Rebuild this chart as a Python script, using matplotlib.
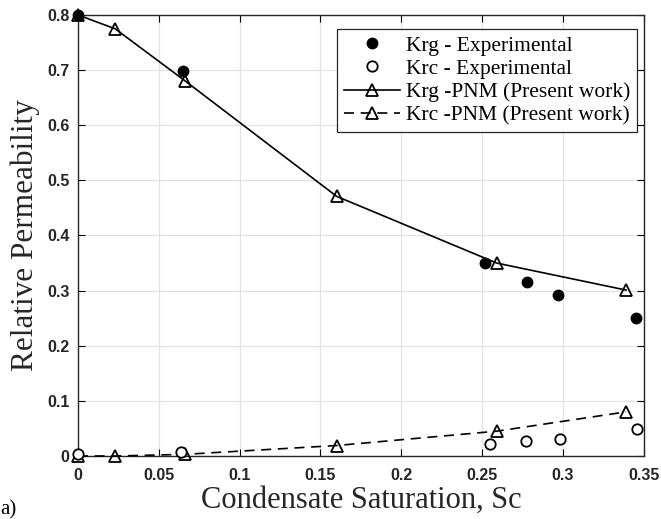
import matplotlib
matplotlib.use("Agg")
import matplotlib.pyplot as plt

# Data
sc_krg_exp = [0.0, 0.065, 0.252, 0.278, 0.297, 0.345]
krg_exp = [0.800, 0.699, 0.350, 0.315, 0.292, 0.250]

sc_krc_exp = [0.0, 0.064, 0.255, 0.277, 0.298, 0.346]
krc_exp = [0.003, 0.008, 0.021, 0.028, 0.030, 0.049]

sc_pnm = [0.0, 0.023, 0.066, 0.160, 0.259, 0.339]
krg_pnm = [0.800, 0.775, 0.681, 0.471, 0.350, 0.301]
krc_pnm = [0.000, 0.000, 0.003, 0.019, 0.045, 0.080]

xticks = [0, 0.05, 0.1, 0.15, 0.2, 0.25, 0.3, 0.35]
xticklabels = ["0", "0.05", "0.1", "0.15", "0.2", "0.25", "0.3", "0.35"]
yticks = [0, 0.1, 0.2, 0.3, 0.4, 0.5, 0.6, 0.7, 0.8]
yticklabels = ["0", "0.1", "0.2", "0.3", "0.4", "0.5", "0.6", "0.7", "0.8"]

fig = plt.figure(figsize=(6.61, 5.19), dpi=100)
ax = fig.add_axes([0.118, 0.1214, 0.856, 0.8497])

ax.plot(sc_krg_exp, krg_exp, linestyle="none", marker="o", ms=7.5,
        mfc="black", mec="black", label="Krg - Experimental", clip_on=False, zorder=4)
ax.plot(sc_krc_exp, krc_exp, linestyle="none", marker="o", ms=7.5,
        mfc="white", mec="black", mew=1.3, label="Krc - Experimental", clip_on=False, zorder=4)
ax.plot(sc_pnm, krg_pnm, linestyle="-", color="black", lw=1.2, marker="^", ms=8.5,
        mfc="none", mec="black", mew=1.3, label="Krg -PNM (Present work)", clip_on=False, zorder=3)
ax.plot(sc_pnm, krc_pnm, linestyle=(0, (6, 4)), color="black", lw=1.2, marker="^", ms=8.5,
        mfc="none", mec="black", mew=1.3, label="Krc -PNM (Present work)", clip_on=False, zorder=3)

ax.set_xlim(0, 0.35)
ax.set_ylim(0, 0.8)
ax.set_xticks(xticks)
ax.set_xticklabels(xticklabels)
ax.set_yticks(yticks)
ax.set_yticklabels(yticklabels)
for lab in ax.get_xticklabels() + ax.get_yticklabels():
    lab.set_fontfamily("Liberation Sans")
    lab.set_fontweight("bold")
    lab.set_fontsize(11.5)
    lab.set_color("#262626")

ax.tick_params(direction="in", top=True, right=True, length=5, width=0.8)
ax.tick_params(axis="x", pad=9)
ax.tick_params(axis="y", pad=6)
ax.grid(True, color="#e3e3e3", lw=0.9)
ax.set_axisbelow(True)
for s in ax.spines.values():
    s.set_linewidth(1.0)
    s.set_color("#262626")

ax.set_xlabel("Condensate Saturation, Sc", fontfamily="Liberation Serif", fontsize=22,
              labelpad=2, color="#262626")
ax.set_ylabel("Relative Permeability", fontfamily="Liberation Serif", fontsize=22.5,
              labelpad=5, color="#262626")

leg = ax.legend(loc="upper right", bbox_to_anchor=(0.988, 0.968),
                prop={"family": "Liberation Serif", "size": 15.5},
                frameon=True, fancybox=False, edgecolor="#262626", framealpha=1,
                handlelength=2.6, labelspacing=0.15, borderpad=0.3, handletextpad=0.3,
                borderaxespad=0)
leg.get_frame().set_linewidth(0.9)

fig.text(0.0, 0.0, "a)", fontfamily="Liberation Serif", fontsize=15, ha="left", va="bottom")

fig.savefig("out.png", dpi=100)
